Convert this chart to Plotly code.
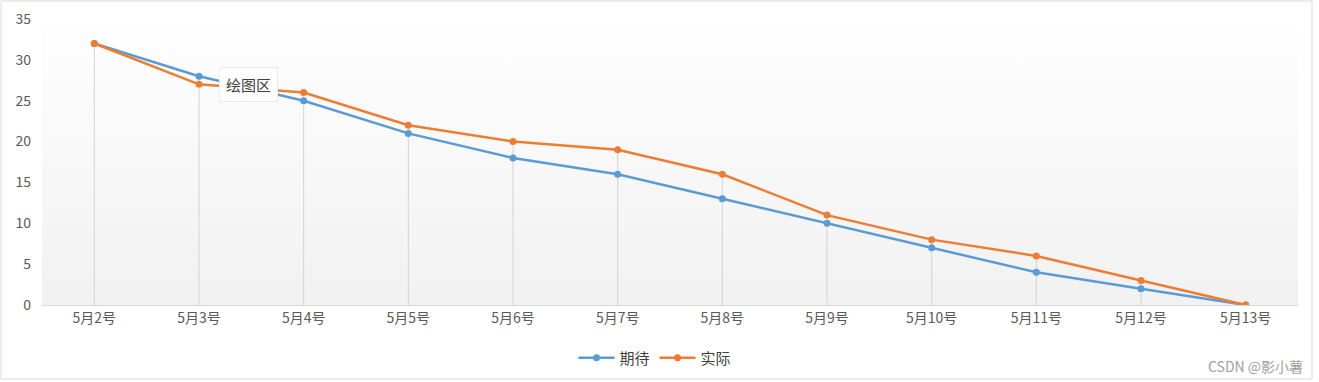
import base64
import plotly.graph_objects as go

categories = ["5月2号", "5月3号", "5月4号", "5月5号", "5月6号", "5月7号",
              "5月8号", "5月9号", "5月10号", "5月11号", "5月12号", "5月13号"]
expected = [32, 28, 25, 21, 18, 16, 13, 10, 7, 4, 2, 0]
actual = [32, 27, 26, 22, 20, 19, 16, 11, 8, 6, 3, 0]
drop_top = [max(a, b) for a, b in zip(expected, actual)]

BLUE = "#5B9BD5"
ORANGE = "#ED7D31"
FONT = "Noto Sans CJK SC, Microsoft YaHei, sans-serif"

fig = go.Figure()

# drop lines
fig.add_trace(go.Scatter(
    x=categories, y=drop_top, mode="markers",
    marker=dict(size=1, opacity=0), showlegend=False, hoverinfo="skip",
    error_y=dict(type="data", symmetric=False, array=[0] * len(drop_top),
                 arrayminus=drop_top, width=0, thickness=1, color="#d4d4d4"),
))
fig.add_trace(go.Scatter(
    x=categories, y=expected, name="期待", mode="lines+markers",
    line=dict(color=BLUE, width=2.5), marker=dict(color=BLUE, size=7),
))
fig.add_trace(go.Scatter(
    x=categories, y=actual, name="实际", mode="lines+markers",
    line=dict(color=ORANGE, width=2.5), marker=dict(color=ORANGE, size=7),
))

svg = ('<svg xmlns="http://www.w3.org/2000/svg" width="100" height="100" preserveAspectRatio="none">'
       '<defs><linearGradient id="g" x1="0" y1="0" x2="0" y2="1">'
       '<stop offset="0" stop-color="#ffffff"/><stop offset="1" stop-color="#f1f1f1"/>'
       '</linearGradient></defs><rect width="100" height="100" fill="url(#g)"/></svg>')
uri = "data:image/svg+xml;base64," + base64.b64encode(svg.encode()).decode()

fig.update_layout(
    width=1319, height=382,
    margin=dict(l=42, r=21, t=19, b=77, autoexpand=False),
    paper_bgcolor="white", plot_bgcolor="rgba(0,0,0,0)",
    font=dict(family=FONT, color="#595959", size=14),
    images=[dict(source=uri, xref="paper", yref="paper", x=0, y=1.025,
                 sizex=1, sizey=1.025, xanchor="left", yanchor="top",
                 sizing="stretch", layer="below")],
    xaxis=dict(type="category", showgrid=False, zeroline=False, automargin=False,
               showline=True, linecolor="#d9d9d9", linewidth=1,
               ticks="", tickfont=dict(size=14, color="#595959"),
               range=[-0.5, len(categories) - 0.5]),
    yaxis=dict(range=[0, 35], dtick=5, showgrid=False, zeroline=False, automargin=False,
               showline=False, ticks="", tickfont=dict(size=14, color="#595959"),
               ticklabelstandoff=10),
    legend=dict(orientation="h", x=(655 - 42) / 1256, xanchor="center", y=-0.185, yanchor="middle",
                font=dict(size=15, color="#404040"), bgcolor="rgba(0,0,0,0)",
                itemwidth=36),
    showlegend=True,
    hovermode=False,
)

fig.add_annotation(text="绘图区", xref="paper", yref="paper",
                   x=(248 - 42) / 1256, y=(305 - 85) / 286,
                   xanchor="center", yanchor="middle",
                   showarrow=False, font=dict(size=15, color="#404040"),
                   bgcolor="white", bordercolor="#ececec", borderwidth=1, borderpad=6)
fig.add_annotation(text="CSDN @影小薯", xref="paper", yref="paper",
                   x=(1305 - 42) / 1256, y=(305 - 366) / 286,
                   xanchor="right", yanchor="middle",
                   showarrow=False, font=dict(size=14, color="#a0a0a0"))

fig.add_shape(type="rect", xref="paper", yref="paper",
              x0=(1 - 42) / 1256, x1=(1312 - 42) / 1256,
              y0=(305 - 379) / 286, y1=(305 - 1) / 286,
              line=dict(color="#d9d9d9", width=1), fillcolor="rgba(0,0,0,0)")

fig.write_html("out.html", config={"displayModeBar": False},
               post_script="document.body.style.margin='0';document.body.style.overflow='hidden';")
